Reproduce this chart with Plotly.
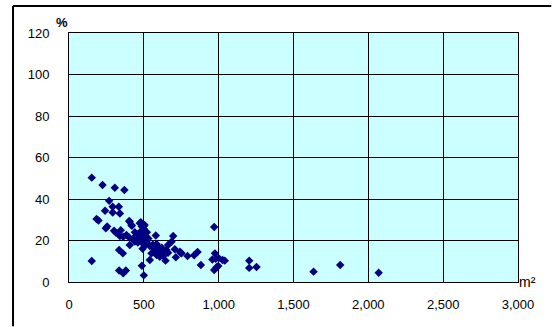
import plotly.graph_objects as go

# Floor area (m²) and ratio (%) per site
area = [152, 224, 306, 370, 268, 241, 292, 333, 292, 340, 184, 197, 255, 246, 301, 346,
        313, 340, 362, 402, 420, 406, 417, 384, 402, 429, 451, 406, 473, 487, 480, 490,
        495, 480, 500, 485, 475, 505, 495, 518, 540, 567, 585, 551, 580, 596, 607, 585,
        607, 620, 651, 662, 685, 662, 696, 707, 714, 747, 741, 752, 792, 836, 859, 881,
        645, 540, 152, 335, 360, 335, 362, 380, 487, 500, 970, 975, 958, 980, 1000, 1026,
        970, 986, 997, 1041, 1204, 1204, 1253, 1634, 1812, 2069,
        440, 460, 455, 520, 510, 530, 560, 575, 620, 630, 600, 440, 500, 500, 492, 505]
ratio = [50.3, 46.7, 45.4, 44.3, 39.1, 34.3, 36.3, 36.3, 33.5, 33.0, 30.4, 29.6, 26.7, 25.9, 24.7, 25.0,
         23.8, 22.2, 21.8, 29.4, 27.1, 29.0, 27.5, 22.7, 21.5, 21.0, 20.2, 17.8, 28.3, 26.7, 28.8, 25.0,
         23.0, 22.0, 21.0, 20.0, 24.0, 27.5, 18.5, 19.4, 17.3, 16.2, 18.3, 13.8, 22.4, 17.0, 15.4, 13.0,
         12.2, 16.5, 15.4, 17.8, 19.4, 14.1, 22.2, 15.8, 11.9, 14.1, 14.6, 13.8, 12.5, 12.9, 14.5, 8.2,
         10.3, 10.6, 10.1, 15.4, 13.8, 5.5, 4.2, 5.5, 7.8, 3.2, 26.5, 13.8, 10.8, 11.2, 11.5, 10.6,
         5.8, 7.1, 7.7, 10.3, 10.3, 6.8, 7.2, 5.0, 8.2, 4.5,
         19.5, 19.0, 23.0, 24.0, 22.0, 21.0, 18.0, 15.0, 14.0, 12.5, 15.5, 24.0, 25.5, 27.0, 16.0, 17.5]

x_ticks = [0, 500, 1000, 1500, 2000, 2500, 3000]
x_labels = ["0", "500", "1,000", "1,500", "2,000", "2,500", "3,000"]
y_ticks = [0, 20, 40, 60, 80, 100, 120]

fig = go.Figure(go.Scatter(
    x=area, y=ratio, mode="markers",
    marker=dict(symbol="diamond", size=6.5, color="#000080", line=dict(width=0)),
))

family = "Liberation Sans, Arial, sans-serif"
font = dict(family=family, size=13, color="black")

# chart frame: only its left and top edges fall inside the page
frame = dict(color="black", width=2)

fig.update_layout(
    width=553, height=327,
    margin=dict(l=69, r=35, t=33, b=45),
    paper_bgcolor="white",
    plot_bgcolor="#CCFFFF",
    showlegend=False,
    font=font,
    xaxis=dict(range=[0, 3000], tickvals=x_ticks, ticktext=x_labels,
               tickfont=font,
               showgrid=True, gridcolor="black", gridwidth=1,
               showline=True, linecolor="black", linewidth=1, mirror=True,
               zeroline=False, ticks="", ticklabelstandoff=10, fixedrange=True),
    yaxis=dict(range=[0, 120], tickvals=y_ticks,
               tickfont=font,
               showgrid=True, gridcolor="black", gridwidth=1,
               showline=True, linecolor="black", linewidth=1, mirror=True,
               zeroline=False, ticks="", ticklabelstandoff=16, fixedrange=True),
    shapes=[
        dict(type="line", xref="paper", yref="paper",
             x0=-0.1247, x1=-0.1247, y0=-0.178, y1=1.1084, line=frame),
        dict(type="line", xref="paper", yref="paper",
             x0=-0.1247, x1=1.074, y0=1.1084, y1=1.1084, line=frame),
    ],
    annotations=[
        dict(text="<b>%</b>", xref="paper", yref="paper", x=-0.016, y=1.044,
             xanchor="center", yanchor="middle", showarrow=False,
             font=dict(family=family, size=13, color="black")),
        dict(text="m²", xref="paper", yref="paper", x=0.998, y=0.0,
             xanchor="left", yanchor="middle", showarrow=False,
             font=dict(family=family, size=14, color="black")),
    ],
)

fig.write_html("out.html")
